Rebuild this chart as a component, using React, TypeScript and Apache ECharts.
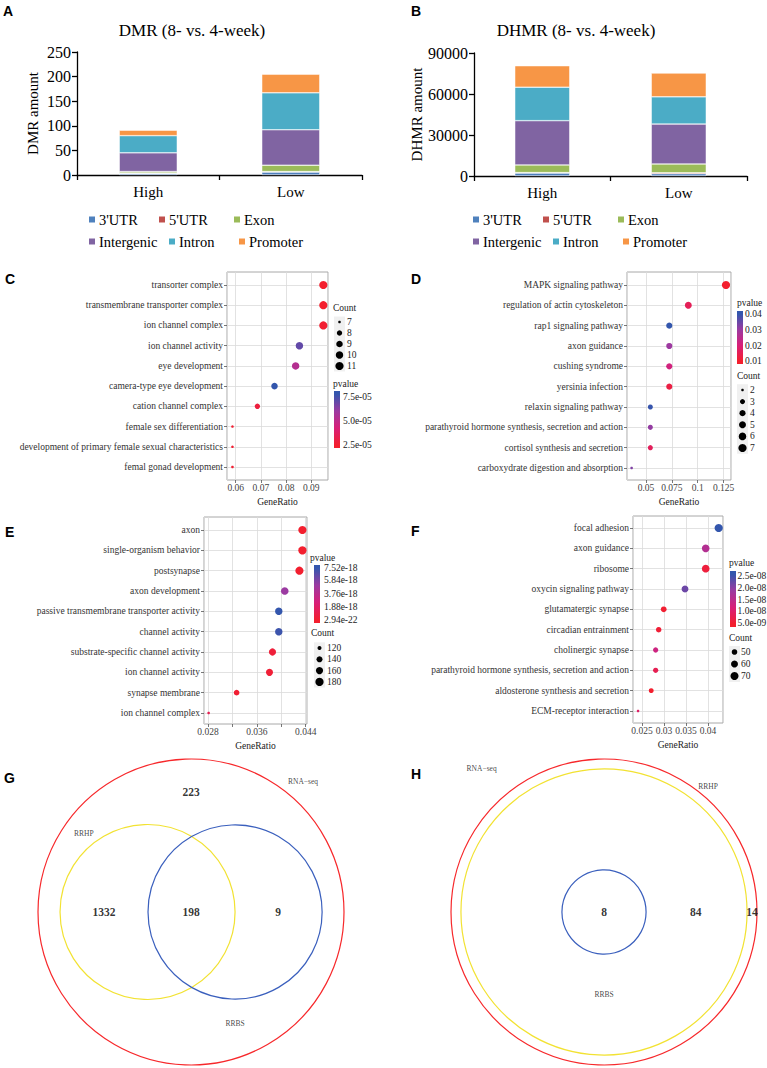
import React, { useEffect, useRef } from 'react';
import * as echarts from 'echarts';

const SERIF = 'Liberation Serif, Times New Roman, Times, serif';
const SANS = 'Liberation Sans, Arial, Helvetica, sans-serif';

// ---------- Panels A & B : stacked bars ----------
const barGroups = ['High', 'Low'];
const regions = ["3'UTR", "5'UTR", 'Exon', 'Intergenic', 'Intron', 'Promoter'];
const regionColors = ['#4F81BD', '#C0504D', '#9BBB59', '#8064A2', '#4BACC6', '#F79646'];
const dmrHigh = [3, 1, 3, 38, 35, 11];
const dmrLow = [6, 1, 13, 72, 75, 38];
const dhmrHigh = [2200, 300, 5600, 32400, 24500, 15700];
const dhmrLow = [1700, 700, 6400, 29200, 19900, 17400];

// ---------- Panel C ----------
const cTerms = ['transorter complex', 'transmembrane transporter complex', 'ion channel complex', 'ion channel activity', 'eye development', 'camera-type eye development', 'cation channel complex', 'female sex differentiation', 'development of primary female sexual characteristics', 'femal gonad development'];
const cGeneRatio = [0.0948, 0.0948, 0.0948, 0.0853, 0.0838, 0.0754, 0.0686, 0.0587, 0.0587, 0.0587];
const cCount = [11, 11, 11, 10, 10, 9, 8, 7, 7, 7];
const cPvalue = [2.5e-5, 2.5e-5, 2.6e-5, 7.0e-5, 5.3e-5, 7.8e-5, 2.9e-5, 2.6e-5, 2.6e-5, 2.6e-5];
const cCountBreaks = [7, 8, 9, 10, 11];
const cPvalueBreaks = [7.5e-5, 5.0e-5, 2.5e-5];
const cPvalueLabels = ['7.5e-05', '5.0e-05', '2.5e-05'];

// ---------- Panel D ----------
const dTerms = ['MAPK signaling pathway', 'regulation of actin cytoskeleton', 'rap1 signaling pathway', 'axon guidance', 'cushing syndrome', 'yersinia infection', 'relaxin signaling pathway', 'parathyroid hormone synthesis, secretion and action', 'cortisol synthesis and secretion', 'carboxydrate digestion and absorption'];
const dGeneRatio = [0.1273, 0.0909, 0.0725, 0.0725, 0.0725, 0.0725, 0.0542, 0.0542, 0.0542, 0.0361];
const dCount = [7, 5, 4, 4, 4, 4, 3, 3, 3, 2];
const dPvalue = [0.0105, 0.016, 0.0402, 0.03, 0.0215, 0.0135, 0.0398, 0.031, 0.0165, 0.033];
const dCountBreaks = [2, 3, 4, 5, 6, 7];
const dPvalueBreaks = [0.04, 0.03, 0.02, 0.01];
const dPvalueLabels = ['0.04', '0.03', '0.02', '0.01'];

// ---------- Panel E ----------
const eTerms = ['axon', 'single-organism behavior', 'postsynapse', 'axon development', 'passive transmembrane transporter activity', 'channel activity', 'substrate-specific channel activity', 'ion channel activity', 'synapse membrane', 'ion channel complex'];
const eGeneRatio = [0.04346, 0.04346, 0.04297, 0.04057, 0.03959, 0.03959, 0.03856, 0.03807, 0.03269, 0.02811];
const eCount = [180, 180, 178, 168, 164, 164, 159, 157, 135, 116];
const ePvalue = [1.0e-21, 2.94e-22, 5.0e-20, 5.0e-18, 7.52e-18, 7.3e-18, 4.0e-19, 3.0e-19, 2.0e-19, 1.2e-18];
const eCountBreaks = [120, 140, 160, 180];
const ePvalueBreaks = [7.52e-18, 5.84e-18, 3.76e-18, 1.88e-18, 2.94e-22];
const ePvalueLabels = ['7.52e-18', '5.84e-18', '3.76e-18', '1.88e-18', '2.94e-22'];

// ---------- Panel F ----------
const fTerms = ['focal adhesion', 'axon guidance', 'ribosome', 'oxycin signaling pathway', 'glutamatergic synapse', 'circadian entrainment', 'cholinergic synapse', 'parathyroid hormone synthesis, secretion and action', 'aldosterone synthesis and secretion', 'ECM-receptor interaction'];
const fGeneRatio = [0.04243, 0.03948, 0.03948, 0.03477, 0.02993, 0.02879, 0.0281, 0.0281, 0.02709, 0.0241];
const fCount = [72, 67, 67, 59, 51, 49, 48, 48, 46, 41];
const fPvalue = [2.585e-8, 1.6e-8, 6.0e-9, 2.2e-8, 5.0e-9, 5.5e-9, 1.3e-8, 8.0e-9, 4.6e-9, 1.0e-8];
const fCountBreaks = [50, 60, 70];
const fPvalueBreaks = [2.5e-8, 2.0e-8, 1.5e-8, 1.0e-8, 5.0e-9];
const fPvalueLabels = ['2.5e-08', '2.0e-08', '1.5e-08', '1.0e-08', '5.0e-09'];

// ---------- Panels G & H : Venn ----------
const vennColors = ['#f7282b', '#f2e232', '#3a5fbd'];
const vennGSets = ['RNA\u2212seq', 'RRHP', 'RRBS'];
const vennGCircles = [[0, 0, 1], [-0.284, 0, 0.572], [0.288, 0, 0.569]];
const vennGSetPos = [[0.732, 0.85], [-0.7, 0.51], [0.288, -0.732]];
const vennGCounts = ['223', '1332', '198', '9'];
const vennGCountPos = [[0, 0.784], [-0.569, 0], [0, 0], [0.569, 0]];
const vennHSets = ['RNA\u2212seq', 'RRHP', 'RRBS'];
const vennHCircles = [[0, 0, 1], [0, 0, 0.935], [0, 0, 0.275]];
const vennHSetPos = [[-0.8, 0.94], [0.68, 0.82], [0, -0.54]];
const vennHCounts = ['8', '84', '14'];
const vennHCountPos = [[0, 0], [0.6, 0], [0.967, 0]];

const pColors = ['#f31f2e', '#d81f78', '#9b3aa1', '#3356ad'];
const DOT_FS = 9.5;

function txt(x: number, y: number, s: string, o: any = {}) {
  return {
    type: 'text', x, y, silent: true,
    style: {
      text: s, fill: o.fill || '#000', fontFamily: o.family || SERIF, fontSize: o.size || DOT_FS,
      fontWeight: o.weight || 'normal', align: o.align || 'left', verticalAlign: 'middle',
    },
  };
}

function addBarPanel(o: any, P: any) {
  const g = o.grid.length;
  o.grid.push({ left: P.left, top: P.top, width: P.width, height: P.height, show: false, containLabel: false, outerBoundsMode: 'none' });
  const line = { color: '#000', width: 1.3 };
  o.xAxis.push({
    gridIndex: g, type: 'category', data: barGroups,
    axisLine: { show: true, lineStyle: line }, axisTick: { show: true, length: 5, lineStyle: line },
    axisLabel: { color: '#000', fontFamily: SERIF, fontSize: 15, margin: 9 }, splitLine: { show: false },
  });
  o.yAxis.push({
    gridIndex: g, type: 'value', min: 0, max: P.yMax, interval: P.yInterval,
    axisLine: { show: true, lineStyle: line }, axisTick: { show: true, length: 5, lineStyle: line },
    axisLabel: { color: '#000', fontFamily: SERIF, fontSize: 16, margin: 6, formatter: (v: number) => String(v) },
    splitLine: { show: false },
    name: P.yName, nameLocation: 'middle', nameGap: P.nameGap, nameRotate: 90,
    nameTextStyle: { color: '#000', fontFamily: SERIF, fontSize: 15 },
  });
  regions.forEach((r, i) => {
    o.series.push({
      type: 'bar', name: r, stack: 'stack' + g, xAxisIndex: g, yAxisIndex: g, barWidth: P.barWidth,
      data: [P.high[i], P.low[i]],
      itemStyle: { color: regionColors[i], borderColor: '#ffffff', borderWidth: 0.5 },
      silent: true,
    });
  });
  const legendPos = [[87, 220], [157, 220], [232, 220], [87, 242], [167, 242], [237, 242]];
  regions.forEach((r, i) => {
    o.legend.push({
      data: [r], left: P.offsetX + legendPos[i][0], top: legendPos[i][1] - 8, padding: 0,
      itemWidth: 8, itemHeight: 8, icon: 'rect', selectedMode: false,
      textStyle: { color: '#000', fontFamily: SERIF, fontSize: 14.5, padding: [0, 0, 0, -2] },
    });
  });
  o.graphic.elements.push(txt(P.titleX, 30, P.title, { size: 17, align: 'center' }));
}

function addDotPanel(o: any, P: any) {
  const [fl, ft, fw, fh] = P.frame;
  const gridLine = { color: '#dadada', width: 0.8 };
  const tickLine = { color: '#555', width: 0.8 };
  const gFrame = o.grid.length;
  o.grid.push({ left: fl, top: ft, width: fw, height: fh, show: true, borderColor: '#a8a8a8', borderWidth: 1, backgroundColor: 'transparent', containLabel: false, outerBoundsMode: 'none' });
  o.xAxis.push({
    gridIndex: gFrame, type: 'value', min: P.xMin, max: P.xMax, minInterval: P.interval, maxInterval: P.interval,
    axisLine: { show: false }, axisTick: { show: true, length: 3, lineStyle: tickLine },
    axisLabel: { show: true, showMinLabel: false, showMaxLabel: false, fontFamily: SERIF, fontSize: DOT_FS, color: '#444', margin: 3, formatter: P.xLabel },
    splitLine: { show: true, lineStyle: gridLine },
    name: 'GeneRatio', nameLocation: 'middle', nameGap: 17,
    nameTextStyle: { fontFamily: SERIF, fontSize: DOT_FS, color: '#222' },
  });
  o.yAxis.push({ gridIndex: gFrame, type: 'value', min: 0, max: 1, show: false });

  const gData = o.grid.length;
  o.grid.push({ left: fl, top: P.dataTop, width: fw, height: P.dataBottom - P.dataTop, show: false, containLabel: false, outerBoundsMode: 'none' });
  o.xAxis.push({ gridIndex: gData, type: 'value', min: P.xMin, max: P.xMax, show: false });
  o.yAxis.push({
    gridIndex: gData, type: 'category', data: P.terms, inverse: true, boundaryGap: false,
    axisLine: { show: false }, axisTick: { show: true, length: 3, interval: 0, lineStyle: tickLine },
    axisLabel: { fontFamily: SERIF, fontSize: DOT_FS, color: '#333', margin: 4, interval: 0 },
    splitLine: { show: true, interval: 0, lineStyle: gridLine },
  });

  const lo = Math.min(...P.count), hi = Math.max(...P.count);
  const size = (c: number) => 2.6 + 5.6 * Math.sqrt(Math.max(0, (c - lo) / (hi - lo)));
  const pmin = Math.min(...P.pvalue), pmax = Math.max(...P.pvalue);
  const si = o.series.length;
  o.series.push({
    type: 'scatter', xAxisIndex: gData, yAxisIndex: gData, silent: true, z: 5,
    data: P.terms.map((t: string, i: number) => [P.ratio[i], i, P.count[i], P.pvalue[i]]),
    symbolSize: (v: number[]) => size(v[2]),
    itemStyle: { opacity: 1 },
  });
  o.visualMap.push({
    type: 'continuous', show: false, seriesIndex: si, dimension: 3, min: pmin, max: pmax,
    inRange: { color: pColors },
  });

  const els = o.graphic.elements;
  const pv = P.pv;
  const inset = 3;
  const innerTop = pv.barTop + inset, innerH = pv.barH - 2 * inset;
  const stops = pColors.slice().reverse().map((c, i) => ({
    offset: (inset + (i / (pColors.length - 1)) * innerH) / pv.barH, color: c,
  }));
  els.push(txt(pv.titleX, pv.titleY, 'pvalue', { fill: '#222' }));
  els.push({
    type: 'rect', silent: true, shape: { x: pv.barX, y: pv.barTop, width: 6, height: pv.barH },
    style: { fill: new echarts.graphic.LinearGradient(0, 0, 0, 1, [{ offset: 0, color: pColors[3] }, ...stops, { offset: 1, color: pColors[0] }]) },
  });
  P.pBreaks.forEach((b: number, i: number) => {
    const y = innerTop + ((pmax - b) / (pmax - pmin)) * innerH;
    els.push(txt(pv.labelX, Math.min(Math.max(y, innerTop), innerTop + innerH), P.pLabels[i], { fill: '#222' }));
  });
  const cn = P.cnt;
  els.push(txt(cn.titleX, cn.titleY, 'Count', { fill: '#222' }));
  els.push({
    type: 'rect', silent: true,
    shape: { x: cn.dotX - 5.5, y: cn.startY - cn.step / 2, width: 11, height: cn.step * P.cBreaks.length },
    style: { fill: '#f0f0f0' },
  });
  P.cBreaks.forEach((b: number, i: number) => {
    const y = cn.startY + i * cn.step;
    els.push({ type: 'circle', silent: true, shape: { cx: cn.dotX, cy: y, r: size(b) / 2 }, style: { fill: '#000' } });
    els.push(txt(cn.labelX, y, String(b), { fill: '#222' }));
  });
}

function addVenn(o: any, P: any) {
  const g = o.grid.length;
  o.grid.push({ left: P.left, top: P.top, width: P.size, height: P.size, show: false, containLabel: false, outerBoundsMode: 'none' });
  o.xAxis.push({ gridIndex: g, type: 'value', min: -1, max: 1, show: false });
  o.yAxis.push({ gridIndex: g, type: 'value', min: -1, max: 1, show: false });
  o.series.push({
    type: 'custom', coordinateSystem: 'cartesian2d', xAxisIndex: g, yAxisIndex: g, silent: true, clip: false,
    data: P.circles.map((c: number[], i: number) => ({ value: c, itemStyle: { color: vennColors[i] } })),
    renderItem: (params: any, api: any) => {
      const c = api.coord([api.value(0), api.value(1)]);
      const r = api.size([api.value(2), 0])[0];
      return { type: 'circle', shape: { cx: c[0], cy: c[1], r }, style: { fill: 'none', stroke: api.visual('color'), lineWidth: 1.2 } };
    },
  });
  o.series.push({
    type: 'scatter', xAxisIndex: g, yAxisIndex: g, silent: true, symbolSize: 1, itemStyle: { color: 'rgba(0,0,0,0)' },
    data: P.counts.map((t: string, i: number) => ({ value: P.countPos[i], name: t })),
    label: { show: true, position: 'inside', formatter: '{b}', fontFamily: SERIF, fontWeight: 'bold', fontSize: 11.5, color: '#000' },
  });
  o.series.push({
    type: 'scatter', xAxisIndex: g, yAxisIndex: g, silent: true, symbolSize: 1, itemStyle: { color: 'rgba(0,0,0,0)' },
    data: P.sets.map((t: string, i: number) => ({ value: P.setPos[i], name: t })),
    label: { show: true, position: 'inside', formatter: '{b}', fontFamily: SERIF, fontSize: 7.5, color: '#111' },
  });
}

function buildOption() {
  const o: any = {
    animation: false, backgroundColor: '#ffffff',
    textStyle: { fontFamily: SERIF },
    grid: [], xAxis: [], yAxis: [], series: [], visualMap: [], legend: [], graphic: { elements: [] },
  };
  addBarPanel(o, { left: 77, top: 52, width: 285, height: 123, yMax: 250, yInterval: 50, yName: 'DMR amount', nameGap: 37, barWidth: 58, high: dmrHigh, low: dmrLow, offsetX: 0, title: 'DMR (8- vs. 4-week)', titleX: 192 });
  addBarPanel(o, { left: 474, top: 53, width: 273, height: 123, yMax: 90000, yInterval: 30000, yName: 'DHMR amount', nameGap: 50, barWidth: 55, high: dhmrHigh, low: dhmrLow, offsetX: 384, title: 'DHMR (8- vs. 4-week)', titleX: 576 });

  addDotPanel(o, {
    terms: cTerms, ratio: cGeneRatio, count: cCount, pvalue: cPvalue, cBreaks: cCountBreaks, pBreaks: cPvalueBreaks, pLabels: cPvalueLabels,
    frame: [227, 272, 101, 208], dataTop: 285, dataBottom: 467, xMin: 0.05653, xMax: 0.09665, interval: 0.01,
    pv: { titleX: 333, titleY: 384, barX: 334, barTop: 391, barH: 57, labelX: 343 },
    cnt: { titleX: 333, titleY: 308, dotX: 339.5, labelX: 347, startY: 322, step: 11 },
  });
  addDotPanel(o, {
    terms: dTerms, ratio: dGeneRatio, count: dCount, pvalue: dPvalue, cBreaks: dCountBreaks, pBreaks: dPvalueBreaks, pLabels: dPvalueLabels,
    frame: [627, 272, 104, 208], dataTop: 285, dataBottom: 468, xMin: 0.03164, xMax: 0.13215, interval: 0.025,
    pv: { titleX: 737, titleY: 303, barX: 737, barTop: 311, barH: 53, labelX: 745 },
    cnt: { titleX: 737, titleY: 376, dotX: 742.5, labelX: 750, startY: 390, step: 11.6 },
  });
  addDotPanel(o, {
    terms: eTerms, ratio: eGeneRatio, count: eCount, pvalue: ePvalue, cBreaks: eCountBreaks, pBreaks: ePvalueBreaks, pLabels: ePvalueLabels,
    frame: [204, 517, 103, 207], dataTop: 530, dataBottom: 713, xMin: 0.02735, xMax: 0.04421, interval: 0.004,
    xLabel: (v: number) => { const k = Math.round(v * 1000); return Math.abs(v * 1000 - k) < 1e-6 && k % 8 === 4 ? (k / 1000).toFixed(3) : ''; },
    pv: { titleX: 310, titleY: 558, barX: 314, barTop: 565, barH: 58, labelX: 324 },
    cnt: { titleX: 311, titleY: 633, dotX: 319.5, labelX: 327, startY: 648, step: 11.3 },
  });
  addDotPanel(o, {
    terms: fTerms, ratio: fGeneRatio, count: fCount, pvalue: fPvalue, cBreaks: fCountBreaks, pBreaks: fPvalueBreaks, pLabels: fPvalueLabels,
    frame: [633, 516, 90, 207], dataTop: 528, dataBottom: 711, xMin: 0.02295, xMax: 0.04341, interval: 0.005,
    pv: { titleX: 729, titleY: 563, barX: 730, barTop: 571, barH: 56, labelX: 737.5 },
    cnt: { titleX: 729, titleY: 638, dotX: 734.5, labelX: 741, startY: 652, step: 12 },
  });

  addVenn(o, { left: 38, top: 759, size: 306, circles: vennGCircles, sets: vennGSets, setPos: vennGSetPos, counts: vennGCounts, countPos: vennGCountPos });
  addVenn(o, { left: 451, top: 759, size: 306, circles: vennHCircles, sets: vennHSets, setPos: vennHSetPos, counts: vennHCounts, countPos: vennHCountPos });

  const letters: [string, number, number][] = [['A', 3, 11], ['B', 411, 11], ['C', 5, 279], ['D', 411, 279], ['E', 5, 532], ['F', 411, 531], ['G', 4, 778], ['H', 411, 774]];
  letters.forEach(([s, x, y]) => o.graphic.elements.push(txt(x, y, s, { family: SANS, weight: 'bold', size: 14 })));
  return o;
}

export default function App() {
  const ref = useRef<HTMLDivElement>(null);
  useEffect(() => {
    if (!ref.current) return;
    const chart = echarts.init(ref.current, undefined, { renderer: 'svg' });
    chart.setOption(buildOption());
    return () => chart.dispose();
  }, []);
  return <div ref={ref} style={{ position: 'absolute', left: 0, top: 0, width: 767, height: 1068, background: '#fff' }} />;
}
